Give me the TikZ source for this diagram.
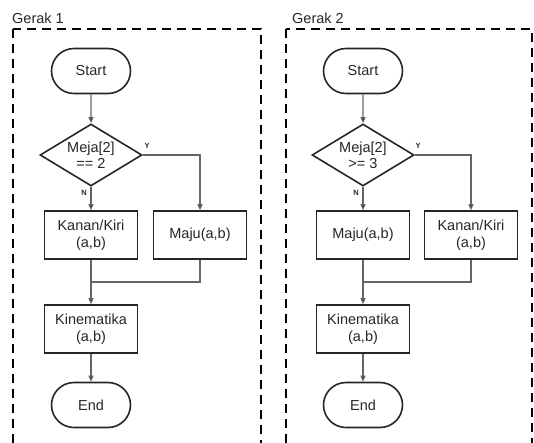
\documentclass[tikz,border=0pt]{standalone}
\usepackage{fontspec}
\setmainfont{Liberation Sans}
\usetikzlibrary{shapes.geometric,shapes.misc,arrows.meta}
\begin{document}
\begin{tikzpicture}[x=1pt,y=-1pt,
  every node/.style={font=\fontsize{14.5}{17}\selectfont, align=center, inner sep=0pt, text=black!85},
  term/.style={draw=black!85, line width=1.6pt, rounded rectangle, minimum width=79pt, minimum height=45pt},
  dec/.style={draw=black!85, line width=1.6pt, diamond, aspect=1.65, minimum width=102pt, minimum height=62pt},
  proc/.style={draw=black!85, line width=1.6pt, rectangle, minimum width=93pt, minimum height=48pt},
  conn/.style={draw=black!60, line width=1.1pt},
  arr/.style={conn, -{Triangle[length=6pt,width=5pt,fill=black!85]}},
  yn/.style={font=\fontsize{7.5}{8}\selectfont\bfseries},
  frame/.style={draw=black, line width=2.8pt, dash pattern=on 9pt off 6pt},
  ttl/.style={font=\fontsize{14.5}{17}\selectfont, anchor=west}
]
\useasboundingbox (0,0) rectangle (534,442);
\begin{scope}
\clip (0,0) rectangle (534,442);
\draw[frame] (13,29) rectangle (261,460);
\draw[frame] (286,29) rectangle (532,460);
\end{scope}
\node[ttl] (t1) at (12,18) {Gerak 1};
\node[ttl] (t2) at (292,18) {Gerak 2};
% Panel 1
\node[term] (s1) at (91,71) {Start};
\node[dec] (d1) at (91,155) {};
\node (d1t) at (91,155) {Meja[2]\\[-1pt]== 2};
\node[proc] (k1) at (91,235) {Kanan/Kiri\\(a,b)};
\node[proc] (m1) at (200,235) {Maju(a,b)};
\node[proc] (km1) at (91,329) {Kinematika\\(a,b)};
\node[term] (e1) at (91,405) {End};
\coordinate (j1) at (91,282);
\coordinate (c1) at (200,155);
\node[yn] (y1) at (147,146) {Y};
\node[yn] (n1) at (84,193) {N};
\draw[arr] (s1) -- (d1);
\draw[arr] (d1) -- (k1);
\draw[arr] (d1.east) -- (c1) -- (m1);
\draw[conn] (k1) -- (j1);
\draw[conn] (m1.south) |- (j1);
\draw[arr] (j1) -- (km1);
\draw[arr] (km1) -- (e1);
% Panel 2
\node[term] (s2) at (363,71) {Start};
\node[dec] (d2) at (363,155) {};
\node (d2t) at (363,155) {Meja[2]\\[-1pt]>= 3};
\node[proc] (m2) at (363,235) {Maju(a,b)};
\node[proc] (k2) at (471,235) {Kanan/Kiri\\(a,b)};
\node[proc] (km2) at (363,329) {Kinematika\\(a,b)};
\node[term] (e2) at (363,405) {End};
\coordinate (j2) at (363,282);
\coordinate (c2) at (471,155);
\node[yn] (y2) at (418,146) {Y};
\node[yn] (n2) at (356,193) {N};
\draw[arr] (s2) -- (d2);
\draw[arr] (d2) -- (m2);
\draw[arr] (d2.east) -- (c2) -- (k2);
\draw[conn] (m2) -- (j2);
\draw[conn] (k2.south) |- (j2);
\draw[arr] (j2) -- (km2);
\draw[arr] (km2) -- (e2);
\end{tikzpicture}
\end{document}
